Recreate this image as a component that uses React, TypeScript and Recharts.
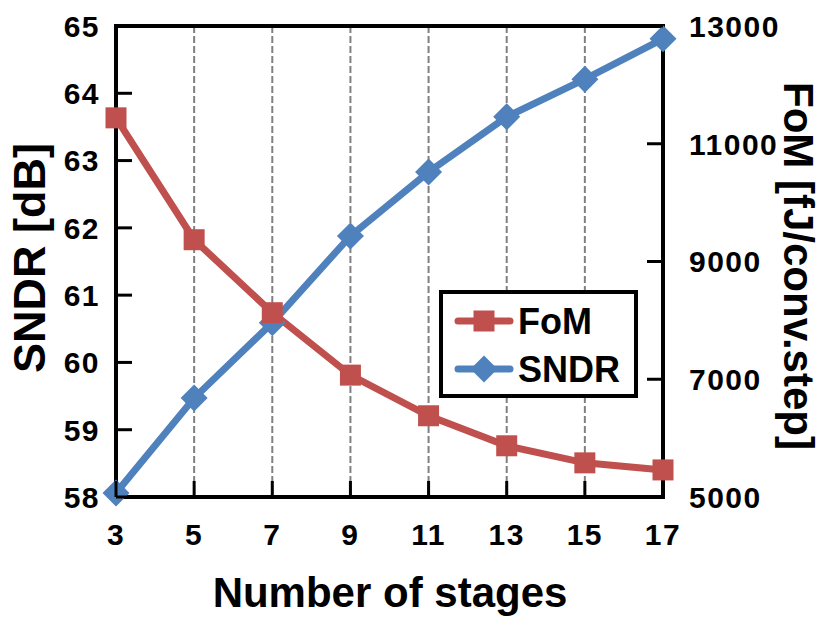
import { CartesianGrid, Line, LineChart, ReferenceLine, XAxis, YAxis } from 'recharts'

const stages = [3, 5, 7, 9, 11, 13, 15, 17]
const sndr = [58.06, 59.47, 60.59, 61.88, 62.83, 63.65, 64.21, 64.81]
const fom = [11440, 9370, 8130, 7070, 6380, 5870, 5580, 5460]
const sndrTicks = [58, 59, 60, 61, 62, 63, 64, 65]
const fomTicks = [5000, 7000, 9000, 11000, 13000]

const data = stages.map((s, i) => ({ stage: s, sndr: sndr[i], fom: fom[i] }))

const RED = '#C0504D'
const BLUE = '#4F81BD'
const FONT = "'Liberation Sans', Arial, sans-serif"
const W = 821
const H = 617
const PLOT = { left: 116, right: 663, top: 26, bottom: 497 }

const tickText = { fontFamily: FONT, fontWeight: 700, fontSize: 30, letterSpacing: 1.5, fill: '#000' }

function LeftTick({ x, y, payload }: any) {
  return (
    <g>
      <line x1={x} x2={x + 16} y1={y} y2={y} stroke="#000" strokeWidth={3} />
      <text x={x - 16} y={y} dy="0.36em" textAnchor="end" style={tickText}>
        {payload.value}
      </text>
    </g>
  )
}

function RightTick({ x, y, payload }: any) {
  return (
    <g>
      <line x1={x - 16} x2={x} y1={y} y2={y} stroke="#000" strokeWidth={3} />
      <text x={x + 26} y={y} dy="0.36em" textAnchor="start" style={tickText}>
        {payload.value}
      </text>
    </g>
  )
}

function BottomTick({ x, y, payload }: any) {
  return (
    <g>
      <line x1={x} x2={x} y1={y} y2={y - 16} stroke="#000" strokeWidth={3} />
      <text x={x} y={y + 48} textAnchor="middle" style={tickText}>
        {payload.value}
      </text>
    </g>
  )
}

function Square({ cx, cy, size = 21, fill = RED }: any) {
  return <rect x={cx - size / 2} y={cy - size / 2} width={size} height={size} fill={fill} />
}

function Diamond({ cx, cy, r = 13.5, fill = BLUE }: any) {
  return <polygon points={`${cx},${cy - r} ${cx + r},${cy} ${cx},${cy + r} ${cx - r},${cy}`} fill={fill} />
}

const legendItems = [
  { name: 'FoM', color: RED, Marker: Square },
  { name: 'SNDR', color: BLUE, Marker: Diamond },
]

export default function App() {
  const axisLine = { stroke: '#000', strokeWidth: 4, strokeLinecap: 'square' as const }
  return (
    <div style={{ position: 'absolute', left: 0, top: 0, width: W, height: H, background: '#fff' }}>
      <LineChart
        width={W}
        height={H}
        data={data}
        margin={{ top: PLOT.top, left: PLOT.left - 1, right: W - PLOT.right - 1, bottom: H - PLOT.bottom - 1 }}
      >
        <CartesianGrid horizontal={false} stroke="#808080" strokeDasharray="7 3" strokeWidth={2} />
        <XAxis
          dataKey="stage"
          type="number"
          domain={[3, 17]}
          ticks={stages}
          height={1}
          tickSize={0}
          tickMargin={0}
          tickLine={false}
          axisLine={axisLine}
          tick={<BottomTick />}
        />
        <YAxis
          yAxisId="left"
          domain={[58, 65]}
          ticks={sndrTicks}
          width={1}
          tickSize={0}
          tickMargin={0}
          tickLine={false}
          axisLine={axisLine}
          tick={<LeftTick />}
        />
        <YAxis
          yAxisId="right"
          orientation="right"
          domain={[5000, 13000]}
          ticks={fomTicks}
          width={1}
          tickSize={0}
          tickMargin={0}
          tickLine={false}
          axisLine={axisLine}
          tick={<RightTick />}
        />
        <ReferenceLine yAxisId="left" y={65} stroke="#000" strokeWidth={4} strokeLinecap="square" />
        <Line
          yAxisId="left"
          dataKey="sndr"
          name="SNDR"
          type="linear"
          stroke={BLUE}
          strokeWidth={7}
          dot={(p: any) => <Diamond key={`d${p.index}`} cx={p.cx} cy={p.cy} />}
          isAnimationActive={false}
        />
        <Line
          yAxisId="right"
          dataKey="fom"
          name="FoM"
          type="linear"
          stroke={RED}
          strokeWidth={7}
          dot={(p: any) => <Square key={`s${p.index}`} cx={p.cx} cy={p.cy} />}
          isAnimationActive={false}
        />
      </LineChart>

      <svg
        width={W}
        height={H}
        style={{ position: 'absolute', left: 0, top: 0, pointerEvents: 'none' }}
      >
        <g style={{ fontFamily: FONT, fontWeight: 700, fill: '#000' }}>
          <text x={390} y={607} textAnchor="middle" fontSize={42}>
            Number of stages
          </text>
          <text x={45} y={258} textAnchor="middle" fontSize={45} transform="rotate(-90 45 258)">
            SNDR [dB]
          </text>
          <text x={784} y={266} textAnchor="middle" fontSize={42} transform="rotate(90 784 266)">
            FoM [fJ/conv.step]
          </text>
        </g>
        <rect x={441} y={292} width={195} height={104} fill="#fff" stroke="#000" strokeWidth={4} />
        {legendItems.map((it, i) => {
          const cy = 321 + i * 48
          const M = it.Marker
          return (
            <g key={it.name}>
              <line x1={458} x2={510} y1={cy} y2={cy} stroke={it.color} strokeWidth={7} strokeLinecap="round" />
              <M cx={484} cy={cy} />
              <text
                x={518}
                y={cy}
                dy="0.36em"
                style={{ fontFamily: FONT, fontWeight: 700, fontSize: 36, fill: '#000' }}
              >
                {it.name}
              </text>
            </g>
          )
        })}
      </svg>
    </div>
  )
}
